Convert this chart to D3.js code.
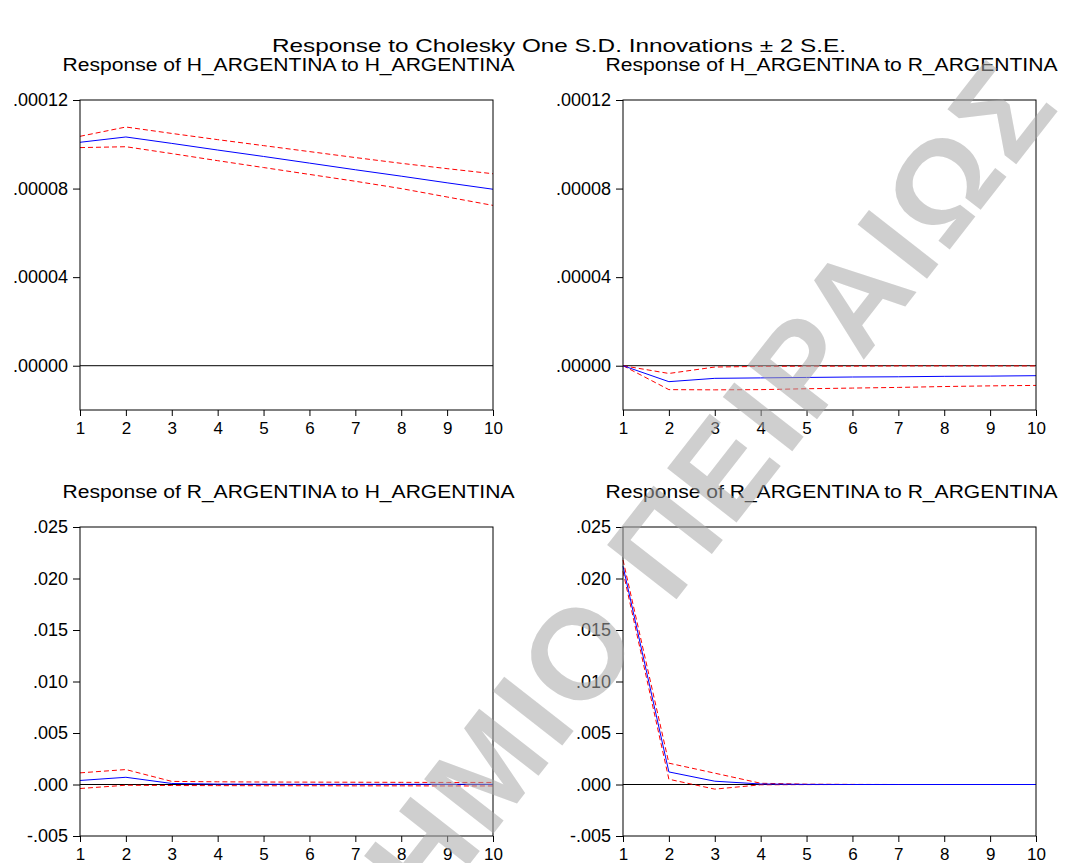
<!DOCTYPE html>
<html>
<head>
<meta charset="utf-8">
<script src="https://cdn.jsdelivr.net/npm/d3@7"></script>
<style>
  html, body { margin: 0; padding: 0; background: #fff; }
  svg { display: block; }
  text { font-family: "Liberation Sans", Arial, sans-serif; fill: #000; }
</style>
</head>
<body>
<svg id="chart" width="1066" height="863"></svg>
<script>
// ---- data ----
const periods = [1, 2, 3, 4, 5, 6, 7, 8, 9, 10];
const mainTitle = "Response to Cholesky One S.D. Innovations \u00B1 2 S.E.";
const panelTitles = [
  "Response of H_ARGENTINA to H_ARGENTINA",
  "Response of H_ARGENTINA to R_ARGENTINA",
  "Response of R_ARGENTINA to H_ARGENTINA",
  "Response of R_ARGENTINA to R_ARGENTINA"
];
// Panel 1: H to H
const hh_resp  = [0.0001009, 0.0001033, 0.0001004, 0.0000974, 0.0000945, 0.0000915, 0.0000885, 0.0000856, 0.0000826, 0.0000797];
const hh_upper = [0.0001036, 0.0001078, 0.0001049, 0.0001021, 0.0000994, 0.0000967, 0.0000940, 0.0000914, 0.0000890, 0.0000867];
const hh_lower = [0.0000985, 0.0000989, 0.0000958, 0.0000926, 0.0000895, 0.0000864, 0.0000833, 0.0000800, 0.0000762, 0.0000724];
// Panel 2: H to R
const hr_resp  = [0, -0.0000072, -0.0000057, -0.0000055, -0.0000053, -0.0000051, -0.0000050, -0.0000048, -0.0000047, -0.0000045];
const hr_upper = [0, -0.0000035, -0.0000006, -0.0000003, -0.0000002, -0.0000002, -0.0000001, -0.0000001, -0.0000001, -0.0000001];
const hr_lower = [0, -0.0000108, -0.0000109, -0.0000108, -0.0000104, -0.0000101, -0.0000098, -0.0000094, -0.0000091, -0.0000089];
// Panel 3: R to H
const rh_resp  = [0.00039, 0.00070, 0.00010, 0.00004, 0.00003, 0.00002, 0.00002, 0.00002, 0.00002, 0.00002];
const rh_upper = [0.00113, 0.00145, 0.00030, 0.00026, 0.00024, 0.00023, 0.00022, 0.00021, 0.00020, 0.00020];
const rh_lower = [-0.00039, -0.00007, -0.00010, -0.00011, -0.00012, -0.00012, -0.00013, -0.00013, -0.00014, -0.00014];
// Panel 4: R to R
const rr_resp  = [0.02120, 0.00122, 0.00032, 0.00005, 0.00001, 0.00000, 0.00000, 0.00000, 0.00000, 0.00000];
const rr_upper = [0.02180, 0.00207, 0.00110, 0.00012, 0.00003, 0.00001, 0.00000, 0.00000, 0.00000, 0.00000];
const rr_lower = [0.02070, 0.00051, -0.00045, -0.00003, -0.00001, 0.00000, 0.00000, 0.00000, 0.00000, 0.00000];

const hTicks = [0, 0.00004, 0.00008, 0.00012];
const hTickLabels = [".00000", ".00004", ".00008", ".00012"];
const rTicks = [-0.005, 0, 0.005, 0.010, 0.015, 0.020, 0.025];
const rTickLabels = ["-.005", ".000", ".005", ".010", ".015", ".020", ".025"];
const hDomain = [-0.00002, 0.00012];
const rDomain = [-0.005, 0.025];
const watermarkText = "ΠΑΝΕΠΙΣΤΗΜΙΟ ΠΕΙΡΑΙΩΣ";

// ---- layout ----
const svg = d3.select("#chart");
const panels = [
  {title: panelTitles[0], resp: hh_resp, up: hh_upper, lo: hh_lower, domain: hDomain, ticks: hTicks, labels: hTickLabels,
   left: 80, right: 493, top: 100, bottom: 410},
  {title: panelTitles[1], resp: hr_resp, up: hr_upper, lo: hr_lower, domain: hDomain, ticks: hTicks, labels: hTickLabels,
   left: 623, right: 1036, top: 100, bottom: 410},
  {title: panelTitles[2], resp: rh_resp, up: rh_upper, lo: rh_lower, domain: rDomain, ticks: rTicks, labels: rTickLabels,
   left: 80, right: 493, top: 527, bottom: 836},
  {title: panelTitles[3], resp: rr_resp, up: rr_upper, lo: rr_lower, domain: rDomain, ticks: rTicks, labels: rTickLabels,
   left: 623, right: 1036, top: 527, bottom: 836}
];

svg.append("text")
  .attr("x", 559).attr("y", 52)
  .attr("text-anchor", "middle")
  .attr("font-size", 18.5)
  .attr("textLength", 574)
  .attr("lengthAdjust", "spacingAndGlyphs")
  .text(mainTitle);

panels.forEach(p => {
  const x = d3.scaleLinear().domain([1, 10]).range([p.left, p.right]);
  const y = d3.scaleLinear().domain(p.domain).range([p.bottom, p.top]);
  const g = svg.append("g");

  g.append("text")
    .attr("x", (p.left + p.right) / 2 + 2).attr("y", p.top - 29)
    .attr("text-anchor", "middle")
    .attr("font-size", 17.5)
    .attr("textLength", 452)
    .attr("lengthAdjust", "spacingAndGlyphs")
    .text(p.title);

  // zero line
  g.append("line")
    .attr("x1", p.left).attr("x2", p.right)
    .attr("y1", y(0)).attr("y2", y(0))
    .attr("stroke", "#000").attr("stroke-width", 1);

  const line = d3.line().x((d, i) => x(periods[i])).y(d => y(d));
  g.append("path").datum(p.up).attr("d", line)
    .attr("fill", "none").attr("stroke", "#ff0000").attr("stroke-width", 1).attr("stroke-dasharray", "5,3");
  g.append("path").datum(p.lo).attr("d", line)
    .attr("fill", "none").attr("stroke", "#ff0000").attr("stroke-width", 1).attr("stroke-dasharray", "5,3");
  g.append("path").datum(p.resp).attr("d", line)
    .attr("fill", "none").attr("stroke", "#0000ff").attr("stroke-width", 1);

  // frame
  g.append("rect")
    .attr("x", p.left).attr("y", p.top)
    .attr("width", p.right - p.left).attr("height", p.bottom - p.top)
    .attr("fill", "none").attr("stroke", "#000").attr("stroke-width", 1);

  // axes
  const xAxis = d3.axisBottom(x).tickValues(periods).tickFormat(d3.format("d")).tickSize(6).tickSizeOuter(0);
  const gx = g.append("g").attr("transform", `translate(0,${p.bottom})`).call(xAxis);
  gx.select(".domain").remove();
  gx.selectAll("text").attr("font-size", 17).attr("font-family", "Liberation Sans, Arial, sans-serif")
    .attr("y", 10).attr("dy", "0.85em");

  const yAxis = d3.axisLeft(y).tickValues(p.ticks).tickFormat((d, i) => p.labels[i]).tickSize(7).tickSizeOuter(0);
  const gy = g.append("g").attr("transform", `translate(${p.left},0)`).call(yAxis);
  gy.select(".domain").remove();
  gy.selectAll("text").attr("font-size", 18).attr("font-family", "Liberation Sans, Arial, sans-serif").attr("x", -12);
});

// watermark (semi-transparent, drawn over the chart as in the reference)
svg.append("text")
  .attr("transform", "translate(-29,1430) rotate(-52)")
  .attr("text-anchor", "start")
  .attr("dominant-baseline", "central")
  .attr("font-size", 128)
  .attr("font-weight", "bold")
  .attr("letter-spacing", 5)
  .style("fill", "#a8a8a8")
  .attr("fill-opacity", 0.55)
  .text(watermarkText);
</script>
</body>
</html>
